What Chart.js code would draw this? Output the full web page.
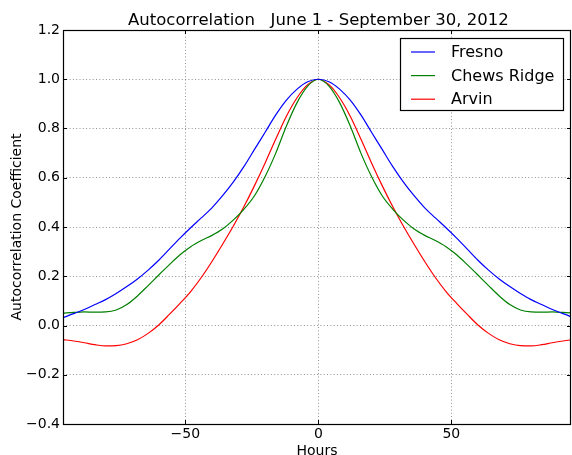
<!DOCTYPE html>
<html>
<head>
<meta charset="utf-8">
<script src="https://cdn.jsdelivr.net/npm/chart.js@4/dist/chart.umd.min.js"></script>
<style>
  html, body { margin: 0; padding: 0; background: #fff; }
  #wrap { width: 572px; height: 455px; }
</style>
</head>
<body>
<div id="wrap"><canvas id="acf"></canvas></div>
<script>
"use strict";
// lag in hours
var hours = [
  -96, -92, -88, -84, -80, -76, -72, -68, -64, -60, -56, -52, -48, -44, -40, -36, -32, -28, -24, -20, -16, -12, -8, -4,
  0, 4, 8, 12, 16, 20, 24, 28, 32, 36, 40, 44, 48, 52, 56, 60, 64, 68, 72, 76, 80, 84, 88, 92, 96
];
var fresno = [
  0.032, 0.048, 0.065, 0.085, 0.105, 0.130, 0.158, 0.189, 0.225, 0.265, 0.310, 0.355, 0.397, 0.437, 0.478, 0.527, 0.582, 0.645, 0.715, 0.785, 0.855, 0.915, 0.960, 0.990,
  1.000, 0.990, 0.960, 0.915, 0.855, 0.785, 0.715, 0.645, 0.582, 0.527, 0.478, 0.437, 0.397, 0.355, 0.310, 0.265, 0.225, 0.189, 0.158, 0.130, 0.105, 0.085, 0.065, 0.048, 0.032
];
var chewsRidge = [
  0.050, 0.053, 0.055, 0.054, 0.055, 0.063, 0.085, 0.120, 0.162, 0.205, 0.247, 0.287, 0.320, 0.345, 0.366, 0.392, 0.428, 0.472, 0.527, 0.605, 0.700, 0.810, 0.905, 0.972,
  1.000, 0.972, 0.905, 0.810, 0.700, 0.605, 0.527, 0.472, 0.428, 0.392, 0.366, 0.345, 0.320, 0.287, 0.247, 0.205, 0.162, 0.120, 0.085, 0.063, 0.055, 0.054, 0.055, 0.053, 0.050
];
var arvin = [
  -0.057, -0.063, -0.070, -0.078, -0.083, -0.082, -0.074, -0.058, -0.032, 0.002, 0.045, 0.090, 0.138, 0.195, 0.260, 0.330, 0.403, 0.482, 0.568, 0.660, 0.757, 0.850, 0.925, 0.978,
  1.000, 0.978, 0.925, 0.850, 0.757, 0.660, 0.568, 0.482, 0.403, 0.330, 0.260, 0.195, 0.138, 0.090, 0.045, 0.002, -0.032, -0.058, -0.074, -0.082, -0.083, -0.078, -0.070, -0.063, -0.057
];
var seriesNames = ['Fresno', 'Chews Ridge', 'Arvin'];
var xTicks = [-50, 0, 50];
var chartTitle = 'Autocorrelation   June 1 - September 30, 2012';

var FONT = 'DejaVu Sans';
var minus = function (s) { return String(s).replace('-', '\u2212'); };
var pts = function (vals) { return vals.map(function (v, i) { return { x: hours[i], y: v }; }); };

// title over the axes, frame, inward ticks and the boxed legend, matplotlib style
var frameLegend = {
  id: 'frameLegend',
  afterDraw: function (chart) {
    var ctx = chart.ctx, a = chart.chartArea;
    var xs = chart.scales.x, ys = chart.scales.y;
    ctx.save();
    ctx.fillStyle = '#000';
    ctx.font = '16.5px "' + FONT + '"';
    ctx.textAlign = 'center';
    ctx.textBaseline = 'alphabetic';
    ctx.fillText(chartTitle, xs.getPixelForValue(0), 24.5);

    ctx.strokeStyle = '#000';
    ctx.lineWidth = 1;
    ctx.beginPath();
    xTicks.forEach(function (t) {
      var px = Math.round(xs.getPixelForValue(t)) + 0.5;
      ctx.moveTo(px, a.bottom); ctx.lineTo(px, a.bottom - 4);
      ctx.moveTo(px, a.top); ctx.lineTo(px, a.top + 4);
    });
    ys.ticks.forEach(function (t) {
      var py = Math.round(ys.getPixelForValue(t.value)) + 0.5;
      ctx.moveTo(a.left, py); ctx.lineTo(a.left + 4, py);
      ctx.moveTo(a.right, py); ctx.lineTo(a.right - 4, py);
    });
    ctx.stroke();
    ctx.lineWidth = 1.2;
    ctx.strokeRect(Math.round(a.left) + 0.5, Math.round(a.top) + 0.5, Math.round(a.right - a.left) - 1, Math.round(a.bottom - a.top));

    // legend box
    var bx = 400.5, by = 38.5, bw = 163, bh = 72;
    ctx.fillStyle = '#fff';
    ctx.fillRect(bx, by, bw, bh);
    ctx.lineWidth = 1.2;
    ctx.strokeStyle = '#000';
    ctx.strokeRect(bx, by, bw, bh);
    ctx.font = '16px "' + FONT + '"';
    ctx.textBaseline = 'middle';
    ctx.textAlign = 'left';
    chart.data.datasets.forEach(function (ds, i) {
      var ly = 52 + i * 23.6;
      ctx.strokeStyle = ds.borderColor;
      ctx.lineWidth = ds.borderWidth;
      ctx.beginPath();
      ctx.moveTo(411, ly); ctx.lineTo(435, ly);
      ctx.stroke();
      ctx.fillStyle = '#000';
      ctx.fillText(ds.label, 451, ly + 1);
    });
    ctx.restore();
  }
};

var gridStyle = {
  color: 'rgba(0,0,0,0.55)',
  lineWidth: 0.8,
  drawTicks: false
};

new Chart(document.getElementById('acf'), {
  type: 'line',
  data: {
    datasets: [
      { label: seriesNames[0], data: pts(fresno), borderColor: '#0000ff' },
      { label: seriesNames[1], data: pts(chewsRidge), borderColor: '#008000' },
      { label: seriesNames[2], data: pts(arvin), borderColor: '#ff0000' }
    ].map(function (d) {
      d.borderWidth = 1.2;
      d.pointRadius = 0;
      d.fill = false;
      d.cubicInterpolationMode = 'monotone';
      return d;
    })
  },
  options: {
    responsive: true,
    maintainAspectRatio: false,
    animation: false,
    devicePixelRatio: 1,
    layout: { padding: { left: 0, right: 1, top: 30, bottom: 0 } },
    plugins: {
      legend: { display: false },
      tooltip: { enabled: false },
      title: { display: false }
    },
    scales: {
      x: {
        type: 'linear',
        min: -96,
        max: 95,
        afterBuildTicks: function (s) { s.ticks = xTicks.map(function (v) { return { value: v }; }); },
        afterFit: function (s) { s.height = 31; },
        grid: gridStyle,
        border: { display: false, dash: [1, 2.3] },
        ticks: {
          color: '#000',
          padding: 2,
          maxRotation: 0,
          font: { family: FONT, size: 14 },
          callback: function (v) { return minus(v); }
        },
        title: {
          display: true,
          text: 'Hours',
          color: '#000',
          font: { family: FONT, size: 14, lineHeight: 1 },
          padding: { top: 0, bottom: -3 }
        }
      },
      y: {
        min: -0.4,
        max: 1.2,
        afterFit: function (s) { s.width = 63; },
        grid: gridStyle,
        border: { display: false, dash: [1, 2.3] },
        ticks: {
          stepSize: 0.2,
          color: '#000',
          padding: 3,
          font: { family: FONT, size: 14 },
          callback: function (v) { return minus(Number(v).toFixed(1)); }
        },
        title: {
          display: true,
          text: 'Autocorrelation Coefficient',
          color: '#000',
          font: { family: FONT, size: 14, lineHeight: 1.2 },
          padding: { top: 8.6, bottom: 0 }
        }
      }
    }
  },
  plugins: [frameLegend]
});
</script>
</body>
</html>
